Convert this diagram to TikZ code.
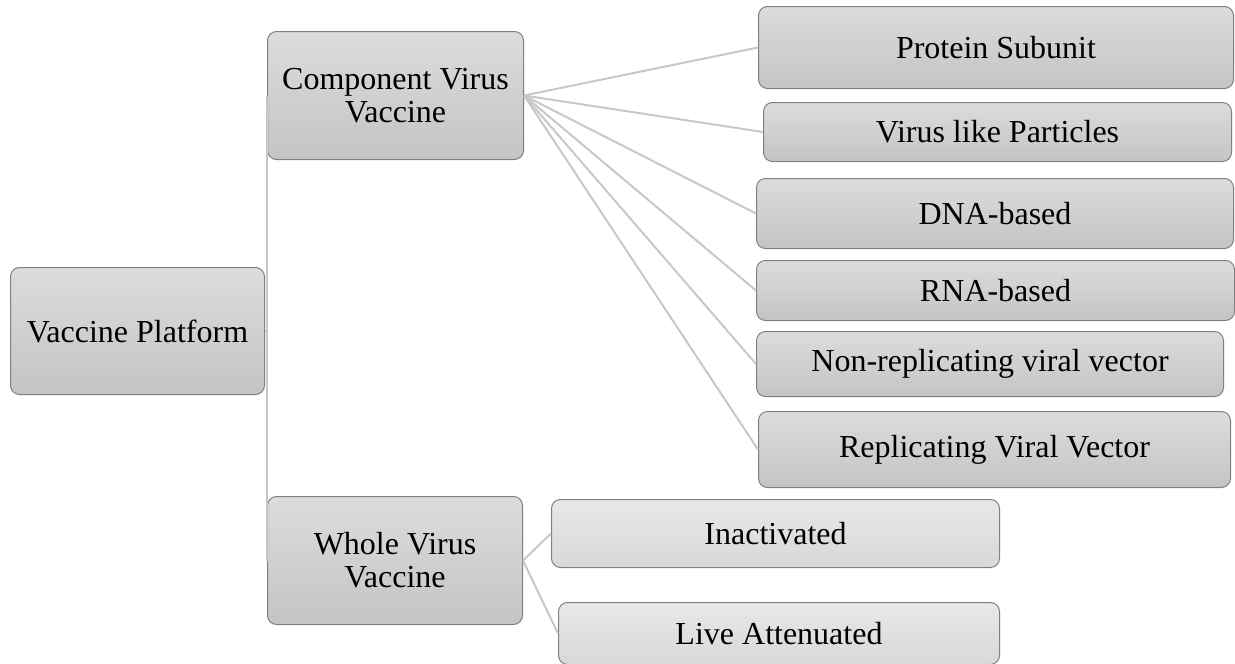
\documentclass[tikz,border=0pt]{standalone}
\usepackage{fontspec}
\setmainfont{Liberation Serif}
\begin{document}
\begin{tikzpicture}[x=1pt,y=-1pt,
  box/.style={draw=boxborder, line width=1pt, rounded corners=9pt,
    top color=boxtop, bottom color=boxbot, anchor=north west,
    align=center, inner sep=0pt, font=\fontsize{32}{33}\selectfont},
  lightbox/.style={box, top color=ltop, bottom color=lbot},
  link/.style={draw=linkcol, line width=2pt}]
\definecolor{boxborder}{HTML}{808080}
\definecolor{boxtop}{HTML}{DCDCDC}
\definecolor{boxbot}{HTML}{C4C4C4}
\definecolor{ltop}{HTML}{E8E8E8}
\definecolor{lbot}{HTML}{D8D8D8}
\definecolor{linkcol}{HTML}{C8C8C8}
\useasboundingbox (0,0) rectangle (1235,664);

\node[box, minimum width=254, minimum height=127] (root) at (10,267) {Vaccine Platform};
\node[box, minimum width=256, minimum height=128] (comp) at (267,31) {Component Virus\\Vaccine};
\node[box, minimum width=255, minimum height=128] (whole) at (267,496) {Whole Virus\\Vaccine};

\node[box, minimum width=475, minimum height=82] (prot) at (758,6) {Protein Subunit};
\node[box, minimum width=468, minimum height=59] (vlp) at (763,102) {Virus like Particles};
\node[box, minimum width=477, minimum height=70] (dna) at (756,178) {DNA-based};
\node[box, minimum width=478, minimum height=60] (rna) at (756,260) {RNA-based};
\node[box, minimum width=467, minimum height=65] (nonrep) at (756,331) {Non-replicating viral vector};
\node[box, minimum width=472, minimum height=76] (rep) at (758,411) {Replicating Viral Vector};

\node[lightbox, minimum width=448, minimum height=68] (inact) at (551,499) {Inactivated};
\node[lightbox, minimum width=441, minimum height=62] (live) at (558,602) {Live Attenuated};

\coordinate (rj) at ([xshift=2pt]root.east);
\draw[link] (root.east) -- (rj) |- (comp.west);
\draw[link] (rj) |- (whole.west);
\foreach \t in {prot,vlp,dna,rna,nonrep,rep}
  \draw[link] (comp.east) -- (\t.west);
\foreach \t in {inact,live}
  \draw[link] (whole.east) -- (\t.west);
\end{tikzpicture}
\end{document}
